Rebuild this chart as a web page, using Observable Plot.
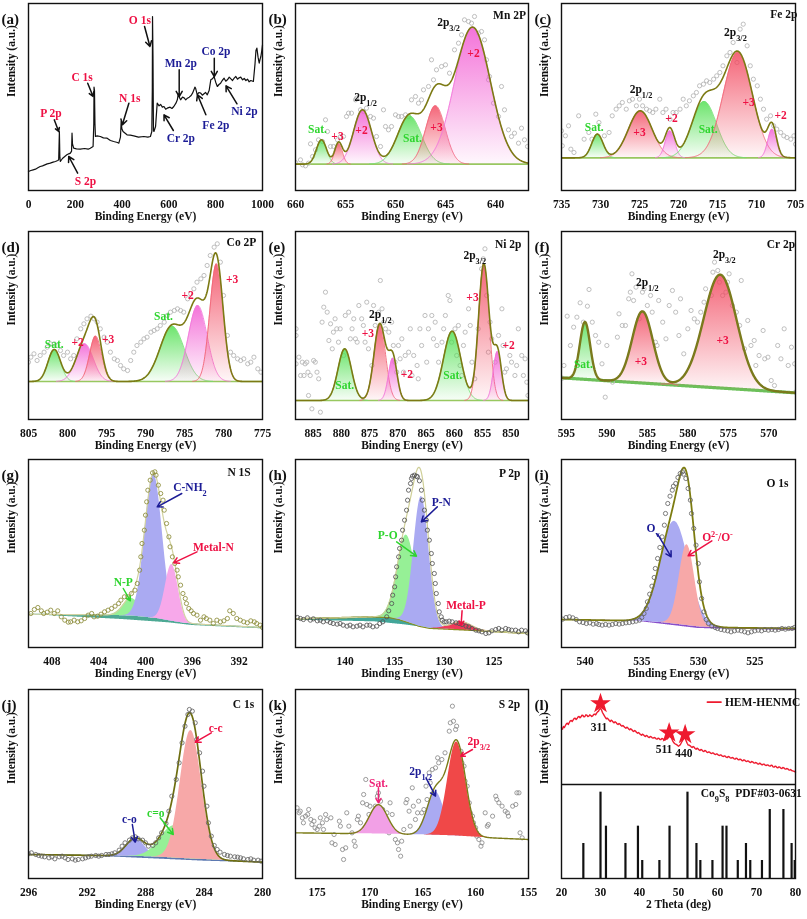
<!DOCTYPE html>
<html><head><meta charset="utf-8">
<script src="https://cdn.jsdelivr.net/npm/d3@7"></script>
<script src="https://cdn.jsdelivr.net/npm/@observablehq/plot@0.6"></script>
<style>
body{margin:0;background:#fff;}
#fig{position:relative;width:807px;height:919px;overflow:hidden;background:#fff;}
.pan{position:absolute;}
</style></head><body>
<svg width="0" height="0" style="position:absolute;left:0;top:0">
<defs>
<linearGradient id="gPink" x1="0" y1="0" x2="0" y2="1"><stop offset="0" stop-color="#f25ad2" stop-opacity="0.85"/><stop offset="1" stop-color="#f25ad2" stop-opacity="0.05"/></linearGradient>
<linearGradient id="gRed" x1="0" y1="0" x2="0" y2="1"><stop offset="0" stop-color="#f24a60" stop-opacity="0.85"/><stop offset="1" stop-color="#f24a60" stop-opacity="0.05"/></linearGradient>
<linearGradient id="gGreen" x1="0" y1="0" x2="0" y2="1"><stop offset="0" stop-color="#52e052" stop-opacity="0.85"/><stop offset="1" stop-color="#52e052" stop-opacity="0.05"/></linearGradient>
</defs></svg>
<div id="fig"></div>
<script>
// ---------------- DATA ----------------
// (a) survey spectrum: [binding energy, intensity]
const surveyLine = [[0,57],[10,60],[20,62],[30,64],[40,68],[50,72],[60,74],[70,77],[80,80],[93,82],[105,85],[115,87],[125,90],[129,92],[131,150],[132,177],[134,100],[136,87],[145,96],[155,102],[164,107],[172,110],[179,112],[184,118],[186,172],[188,140],[193,127],[205,125],[221,124],[240,126],[255,124],[264,127],[276,132],[279,200],[280,310],[282,300],[284,200],[286,162],[293,164],[307,162],[320,158],[336,157],[350,150],[364,147],[380,144],[386,142],[393,160],[396,207],[399,185],[404,177],[421,167],[435,166],[450,164],[470,160],[493,162],[510,160],[521,162],[527,177],[529,300],[530,522],[532,400],[534,180],[536,177],[543,192],[550,262],[558,254],[565,258],[572,250],[579,252],[586,244],[593,247],[605,250],[613,246],[621,252],[630,262],[636,272],[640,290],[643,282],[650,272],[658,280],[665,278],[672,272],[679,277],[687,280],[695,285],[701,292],[707,302],[711,310],[714,307],[718,296],[721,287],[728,294],[736,292],[743,286],[750,290],[757,294],[764,287],[772,300],[779,332],[786,335],[793,342],[800,325],[807,312],[814,318],[821,322],[828,330],[836,337],[843,328],[850,332],[858,340],[865,335],[872,330],[879,337],[886,342],[893,334],[900,338],[907,340],[915,332],[922,336],[929,330],[936,334],[943,326],[950,330],[961,327],[968,380],[972,420],[976,427],[981,400],[986,382],[990,395],[993,402],[997,420],[1000,437]];
const surveyLabels = [[476,512,"O 1s","red"],[229,340,"C 1s","red"],[96,232,"P 2p","red"],[243,27,"S 2p","red"],[433,277,"N 1s","red"],[651,382,"Mn 2p","navy"],[801,417,"Co 2p","navy"],[651,157,"Cr 2p","navy"],[801,197,"Fe 2p","navy"],[923,237,"Ni 2p","navy"]];
const surveyArrows = [[496,492,519,432,"black"],[253,322,276,282,"black"],[110,212,129,177,"black"],[210,52,172,102,"black"],[429,262,401,197,"black"],[644,362,644,282,"black"],[794,397,794,342,"black"],[619,180,579,227,"black"],[758,227,722,287,"black"],[891,260,844,314,"black"]];

// (b) Mn 2p
const mnRaw = [[660.0,84],[659.5,92],[659.3,77],[659.0,74],[658.7,82],[658.5,140],[658.3,102],[658.0,122],[657.7,152],[657.3,147],[657.0,212],[656.8,177],[656.5,132],[656.2,132],[655.8,152],[655.5,162],[655.2,162],[654.9,222],[654.7,232],[654.4,232],[654.0,272],[653.9,277],[653.5,242],[653.2,237],[652.9,247],[652.5,222],[652.2,217],[651.9,162],[651.5,132],[651.2,242],[651.0,192],[650.7,182],[650.4,192],[650.0,227],[649.7,222],[649.4,222],[649.0,227],[648.7,222],[648.4,272],[648.0,282],[647.7,262],[647.4,272],[647.2,302],[646.7,312],[646.4,392],[646.2,332],[645.9,362],[645.4,372],[645.0,377],[644.6,352],[644.1,422],[643.7,442],[643.4,467],[643.1,512],[642.7,507],[642.4,502],[642.1,522],[641.7,472],[641.4,477],[641.1,452],[640.9,392],[640.7,332],[640.6,342],[640.2,262],[639.7,222],[639.4,312],[639.1,242],[638.7,182],[638.4,162],[638.1,172],[637.7,142],[637.4,187],[637.1,152],[636.8,132]];
const mnPeaks = [[657.4,73,1.2,"green"],[655.7,62,0.9,"red"],[653.3,163,2.1,"pink"],[648.6,145,2.8,"green"],[646.0,175,2.3,"red"],[642.3,411,4.2,"pink"]];
const mnLabels = [[657.8,184,"Sat.","green"],[655.8,164,"+3","red"],[653.4,180,"+2","red"],[653.0,280,"2p_{1/2}","black"],[648.3,157,"Sat.","green"],[645.9,190,"+3","red"],[644.7,504,"2p_{3/2}","black"],[642.2,412,"+2","red"],[638.6,527,"Mn 2P","black"]];

// (c) Fe 2p
const feRaw = [[735.0,179],[734.9,134],[734.5,164],[734.1,194],[733.8,124],[733.4,114],[732.8,224],[732.1,154],[731.5,174],[731.1,154],[730.6,229],[730.2,204],[729.5,164],[728.9,174],[728.5,224],[728.0,244],[727.6,254],[727.2,264],[726.7,244],[726.3,269],[725.9,274],[725.4,254],[725.0,274],[724.6,254],[724.1,244],[723.7,239],[723.3,234],[722.9,244],[722.4,274],[722.0,234],[721.6,244],[721.1,214],[720.7,234],[720.3,234],[719.8,244],[719.4,274],[719.0,254],[718.6,269],[718.1,284],[717.7,294],[717.3,314],[716.8,319],[716.4,329],[716.0,324],[715.5,334],[715.1,344],[714.7,354],[714.3,374],[713.8,404],[713.4,414],[713.0,444],[712.5,384],[712.1,484],[711.7,499],[711.2,434],[710.8,374],[710.4,334],[709.9,314],[709.5,274],[709.1,244],[708.7,214],[708.2,224],[707.8,194],[707.4,184],[706.9,174],[706.5,164],[706.1,159],[705.6,154],[705.2,164],[705.0,139]];
const fePeaks = [[730.4,71,1.7,"green"],[724.9,141,3.6,"red"],[721.1,81,1.4,"pink"],[716.7,169,3.7,"green"],[712.4,316,4.4,"red"],[708.0,86,1.3,"pink"]];
const feLabels = [[730.8,189,"Sat.","green"],[724.8,304,"2p_{1/2}","black"],[725.0,176,"+3","red"],[720.9,216,"+2","red"],[716.2,184,"Sat.","green"],[712.7,474,"2p_{3/2}","black"],[711.0,266,"+3","red"],[706.9,226,"+2","red"],[706.5,529,"Fe 2p","black"]];

// (d) Co 2p
const coRaw = [[805.0,172],[804.7,187],[804.3,197],[803.9,177],[803.5,192],[803.0,202],[802.6,217],[802.2,227],[801.7,227],[801.3,222],[800.9,207],[800.5,192],[800.0,202],[799.6,182],[799.2,192],[798.8,242],[798.3,272],[797.9,287],[797.5,302],[797.0,310],[796.6,302],[796.2,292],[795.8,272],[795.3,247],[794.9,232],[794.5,202],[794.0,182],[793.6,177],[793.2,162],[792.8,152],[792.3,147],[791.9,177],[791.5,202],[791.1,222],[790.6,232],[790.2,242],[789.8,247],[789.3,262],[788.9,267],[788.5,272],[788.1,282],[787.6,292],[787.2,312],[786.8,322],[786.3,327],[785.9,332],[785.5,327],[785.1,322],[784.6,362],[784.2,377],[783.8,392],[783.4,412],[782.9,422],[782.5,432],[782.1,462],[781.7,492],[781.2,517],[780.8,527],[780.4,472],[780.0,372],[779.5,252],[779.1,202],[778.7,192],[778.2,182],[777.8,177],[777.4,182],[776.9,167],[776.5,172],[776.1,187],[775.6,152],[775.2,142]];
const coPeaks = [[801.7,96,1.9,"green"],[797.8,113,2.6,"pink"],[796.4,136,1.8,"red"],[786.6,166,3.6,"green"],[783.3,228,2.8,"pink"],[780.9,353,2.0,"red"]];
const coLabels = [[801.7,227,"Sat.","green"],[798.7,232,"+2","red"],[794.8,242,"+3","red"],[787.7,310,"Sat.","green"],[784.6,372,"+2","red"],[778.9,422,"+3","red"],[777.7,532,"Co 2P","black"]];

// (e) Ni 2p
const niRaw = [[888.0,272],[888.0,252],[888.0,167],[887.5,187],[887.2,132],[886.9,172],[886.6,132],[886.4,167],[886.1,172],[885.9,142],[885.8,72],[885.5,132],[885.2,32],[884.9,177],[884.6,172],[884.3,142],[884.0,122],[883.7,22],[883.4,292],[883.1,337],[882.8,382],[882.5,322],[882.2,237],[881.9,287],[881.6,212],[881.4,262],[881.1,302],[880.8,272],[880.5,232],[880.2,272],[879.6,192],[879.3,312],[878.7,322],[878.4,242],[878.1,272],[877.8,302],[877.5,242],[877.2,232],[876.9,342],[876.4,302],[876.1,282],[875.8,232],[875.5,352],[875.2,212],[874.6,162],[874.3,342],[874.0,282],[873.4,322],[873.1,417],[872.8,332],[872.5,292],[872.2,272],[871.6,262],[871.1,292],[870.8,222],[870.5,172],[870.2,142],[869.9,222],[869.6,182],[869.3,242],[869.0,142],[868.7,192],[868.1,202],[867.8,272],[867.5,132],[867.2,192],[866.6,162],[866.4,122],[866.1,272],[865.8,222],[865.2,312],[864.9,172],[864.6,272],[864.0,312],[863.7,242],[863.4,292],[863.1,222],[862.8,172],[862.2,232],[861.9,272],[861.6,312],[861.1,372],[860.8,357],[860.5,232],[859.9,272],[859.6,192],[859.3,282],[859.0,162],[858.7,132],[858.4,222],[858.1,262],[857.5,332],[857.2,282],[856.9,172],[856.4,122],[855.8,272],[855.2,452],[854.9,482],[854.6,512],[854.3,372],[854.0,202],[853.7,292],[853.4,242],[852.8,172],[852.2,252],[851.6,332],[851.4,222],[851.1,142],[850.8,152],[850.2,192],[849.9,172],[849.3,132],[849.0,162],[848.7,272],[848.1,192],[847.8,132],[847.5,182],[847.2,112],[847.0,72]];
const niPeaks = [[879.4,155,2.8,"green"],[873.2,230,2.4,"red"],[870.9,127,1.8,"pink"],[860.4,208,3.6,"green"],[854.8,410,2.2,"red"],[852.4,147,1.7,"pink"]];
const niLabels = [[873.1,317,"2p_{1/2}","black"],[875.3,260,"+3","red"],[868.4,137,"+2","red"],[879.4,102,"Sat.","green"],[860.3,132,"Sat.","green"],[856.4,494,"2p_{3/2}","black"],[856.8,367,"+3","red"],[850.4,222,"+2","red"],[850.5,527,"Ni 2p","black"]];

// (f) Cr 2p
const crRaw = [[595.5,124],[595.3,162],[594.9,310],[594.5,222],[594.1,277],[593.7,307],[593.3,350],[592.9,292],[592.4,340],[592.2,390],[591.8,292],[591.4,252],[591.0,232],[590.6,167],[590.2,67],[590.0,222],[589.3,112],[588.7,247],[588.5,317],[588.1,282],[587.7,282],[587.3,362],[587.1,382],[586.9,437],[586.7,357],[586.4,397],[586.0,302],[585.6,382],[585.4,392],[585.0,342],[584.6,372],[584.4,322],[584.0,232],[583.8,222],[583.6,357],[583.1,292],[582.7,242],[582.3,342],[581.9,387],[581.5,322],[581.1,252],[580.9,362],[580.5,197],[580.0,272],[579.6,327],[579.2,302],[578.8,292],[578.4,322],[578.0,352],[577.8,392],[577.1,372],[576.9,442],[576.7,472],[576.3,447],[576.1,412],[575.7,372],[575.3,382],[575.1,412],[574.9,437],[574.5,342],[574.0,322],[573.6,282],[573.4,417],[573.0,212],[572.6,297],[572.2,222],[571.8,237],[571.6,162],[571.2,192],[570.7,267],[570.5,182],[570.1,187],[569.7,117],[569.3,102],[568.9,222],[568.5,182],[568.1,272],[567.6,162],[567.2,217],[566.8,167],[566.7,82]];
const crPeaks = [[592.7,172,1.5,"green"],[585.6,215,3.0,"red"],[576.0,340,4.8,"red"]];
const crLabels = [[592.9,167,"Sat.","green"],[585.0,412,"2p_{1/2}","black"],[585.8,174,"+3","red"],[575.5,497,"2p_{3/2}","black"],[575.7,237,"+3","red"],[568.5,527,"Cr 2p","black"]];

// (g) N 1s
const nRaw = [[409.8,102],[409.5,114],[409.2,120],[408.9,110],[408.7,102],[408.4,106],[408.1,112],[407.8,102],[407.5,110],[407.2,92],[406.9,82],[406.6,76],[406.4,77],[406.1,82],[405.8,77],[405.5,80],[405.2,87],[404.9,97],[404.6,102],[404.4,92],[404.1,94],[403.8,100],[403.5,107],[403.2,112],[402.9,117],[402.6,124],[402.3,132],[402.1,142],[401.8,152],[401.5,152],[401.2,162],[400.9,172],[400.7,192],[400.5,232],[400.4,272],[400.3,312],[400.1,352],[400.0,397],[399.9,437],[399.8,472],[399.6,502],[399.4,524],[399.2,527],[399.1,517],[398.9,487],[398.7,462],[398.5,442],[398.4,412],[398.2,372],[398.0,332],[397.9,302],[397.7,272],[397.5,252],[397.3,232],[397.2,212],[397.0,187],[396.8,162],[396.6,147],[396.5,132],[396.3,117],[396.1,110],[395.9,102],[395.6,97],[395.3,82],[395.0,92],[394.8,87],[394.5,82],[394.2,72],[393.9,82],[393.6,77],[393.3,80],[393.0,87],[392.8,110],[392.5,102],[392.2,87],[391.9,82],[391.6,77],[391.3,74],[391.0,80],[390.7,77],[390.5,72],[390.2,67],[390.0,60]];
const nPeaks = [[401.2,53,1.7,"greenL"],[399.3,432,1.75,"lav"],[397.75,170,1.3,"pinkL"]];
const nBg = [[410,100],[404,98],[401,94],[399,87],[397.6,78],[396.5,72],[390,60]];
const nBand = [[410,99],[402,84],[398,74],[396,66],[390,56]];
const nLabels = [[396.2,482,"C-NH_{2}","navy"],[394.2,300,"Metal-N","red"],[401.9,197,"N-P","green"],[392.0,527,"N 1S","black"]];
const nArrows = [[396.9,462,399.0,422,"navy"],[395.6,287,397.6,254,"red"],[401.9,177,401.3,140,"green"]];

// (h) P 2p
const pRaw = [[144.8,90],[144.5,87],[144.2,84],[143.8,89],[143.5,82],[143.2,86],[142.8,80],[142.5,82],[142.2,77],[141.8,80],[141.5,75],[141.2,72],[140.8,70],[140.5,72],[140.2,67],[139.8,64],[139.5,67],[139.2,62],[138.8,64],[138.5,67],[138.2,62],[137.8,67],[137.5,67],[137.2,62],[136.8,64],[136.5,72],[136.2,77],[135.8,92],[135.6,110],[135.3,132],[135.2,157],[135.0,182],[134.9,212],[134.8,242],[134.6,272],[134.5,297],[134.3,322],[134.2,352],[134.0,382],[133.8,412],[133.7,442],[133.6,472],[133.4,492],[133.3,507],[133.2,514],[133.0,517],[132.8,514],[132.7,512],[132.5,500],[132.3,472],[132.2,442],[132.0,412],[131.8,382],[131.7,352],[131.5,322],[131.3,282],[131.2,252],[131.0,222],[130.9,192],[130.8,162],[130.6,132],[130.5,107],[130.3,92],[130.2,82],[130.0,77],[129.8,77],[129.5,79],[129.2,77],[128.8,74],[128.5,72],[128.2,69],[127.8,64],[127.5,62],[127.2,57],[126.8,52],[126.5,50],[126.2,47],[125.8,42],[125.5,44],[125.2,50],[124.8,54],[124.5,57],[124.2,52],[123.8,57],[123.5,54],[123.2,52],[122.8,52],[122.5,47],[122.2,52],[121.8,50],[121.6,44]];
const pPeaks = [[133.8,260,2.2,"greenL"],[132.3,390,1.8,"lav"],[128.3,24,2.5,"redP"]];
const pBg = [[145,86],[137,92],[135.5,90],[134.5,84],[133.5,74],[132.5,64],[131.5,58],[128,53],[121.5,42]];
const pBand = [[145,82],[137,77],[134,68],[132,60],[128,52],[121.5,41]];
const pLabels = [[130.3,437,"P-N","navy"],[135.7,337,"P-O","green"],[127.8,127,"Metal-P","red"],[123.4,522,"P 2p","black"]];
const pArrows = [[130.7,422,132.3,377,"navy"],[134.8,317,132.8,274,"green"],[128.2,110,128.3,67,"red"]];

// (i) O 1s
const oRaw = [[542.0,85],[541.7,90],[541.4,92],[541.1,89],[540.8,84],[540.5,77],[540.2,75],[539.9,72],[539.6,74],[539.3,70],[539.0,72],[538.8,69],[538.5,67],[538.2,69],[537.9,67],[537.6,69],[537.3,72],[537.0,70],[536.7,72],[536.4,74],[536.1,75],[535.8,77],[535.5,79],[535.2,82],[535.0,90],[534.8,102],[534.6,117],[534.5,137],[534.3,160],[534.1,184],[533.9,210],[533.8,237],[533.6,267],[533.4,300],[533.2,332],[533.0,367],[532.9,402],[532.7,432],[532.5,454],[532.3,472],[532.2,484],[532.0,492],[531.8,510],[531.6,522],[531.4,527],[531.3,520],[531.1,507],[530.9,477],[530.7,442],[530.6,402],[530.4,357],[530.2,307],[530.0,252],[529.9,197],[529.7,147],[529.5,107],[529.3,84],[529.1,72],[528.8,64],[528.5,60],[528.3,57],[528.0,54],[527.7,52],[527.4,50],[527.1,47],[526.8,50],[526.5,52],[526.2,50],[525.9,47],[525.6,44],[525.3,47],[525.0,50],[524.7,52],[524.4,50],[524.1,54],[523.8,52],[523.5,54],[523.2,52],[522.9,54],[522.6,57],[522.3,55],[522.0,57],[521.7,57],[521.5,60]];
const oPeaks = [[532.1,308,3.0,"lav"],[531.0,242,1.6,"salmon"]];
const oBg = [[542.1,84],[535.5,80],[534.5,78],[533,74],[531.5,68],[530,62],[528.5,60],[521.4,57]];
const oBand = [[542.1,84],[535.5,79],[533,69],[530,57],[521.4,51]];
const oLabels = [[534.0,357,"O_{v}","navy"],[528.3,332,"O^{2-}/O^{-}","red"],[523.0,492,"O 1s","black"]];
const oArrows = [[533.6,340,532.4,272,"navy"],[528.8,320,530.9,275,"red"]];

// (j) C 1s
const cRaw = [[296.0,74],[295.8,77],[295.5,72],[295.3,69],[295.1,67],[294.9,65],[294.6,62],[294.4,65],[294.2,59],[293.9,65],[293.7,67],[293.5,62],[293.3,57],[293.0,59],[292.8,55],[292.6,57],[292.3,59],[292.1,62],[291.9,65],[291.7,67],[291.4,69],[291.2,67],[291.0,69],[290.7,72],[290.5,72],[290.3,74],[290.1,77],[289.8,85],[289.6,97],[289.4,107],[289.1,115],[288.9,122],[288.7,125],[288.5,119],[288.2,115],[288.0,107],[287.8,97],[287.5,99],[287.3,107],[287.1,122],[286.9,137],[286.6,165],[286.4,202],[286.2,247],[285.9,297],[285.7,347],[285.5,407],[285.3,457],[285.1,492],[285.0,507],[284.8,502],[284.6,467],[284.5,417],[284.3,377],[284.1,322],[284.0,277],[283.8,217],[283.7,167],[283.5,127],[283.3,99],[283.1,87],[282.9,79],[282.6,72],[282.4,69],[282.2,67],[281.9,65],[281.7,64],[281.5,62],[281.3,59],[281.0,57],[280.8,59],[280.6,55],[280.3,55],[280.1,52]];
const cPeaks = [[288.7,53,1.5,"lav"],[286.0,97,2.3,"greenL"],[284.9,385,1.7,"salmon"]];
const cBg = [[296,72],[291,69],[289,67],[287,64],[285.5,60],[284,57],[282,53],[280,49]];
const cBand = [[296,71],[290,64],[287,58],[284,52],[280,47]];
const cLabels = [[283.2,452,"c-c","red"],[287.3,197,"c=o","green"],[289.1,177,"c-o","navy"],[281.3,522,"C 1s","black"]];
const cArrows = [[283.5,437,284.6,409,"red"],[287.0,182,286.1,132,"green"],[288.9,162,288.7,109,"navy"]];

// (k) S 2p
const sRaw = [[176.9,212],[176.7,197],[176.6,202],[176.4,182],[176.3,167],[176.1,187],[175.9,192],[175.8,207],[175.6,177],[175.5,162],[175.3,172],[175.2,152],[175.0,147],[174.8,157],[174.7,182],[174.5,167],[174.4,147],[174.2,192],[174.1,177],[173.7,182],[173.6,107],[173.4,132],[173.3,102],[172.9,172],[172.8,157],[172.6,87],[172.5,57],[172.3,92],[172.2,197],[172.0,157],[171.7,137],[171.5,112],[171.4,97],[171.2,177],[171.1,187],[170.9,167],[170.7,227],[170.6,252],[170.4,297],[170.3,222],[170.1,192],[170.0,217],[169.8,157],[169.5,217],[169.3,247],[169.2,257],[169.0,232],[168.8,207],[168.5,167],[168.4,197],[168.2,137],[168.1,227],[167.9,192],[167.6,117],[167.4,107],[167.3,87],[167.1,67],[167.0,112],[166.8,147],[166.6,227],[166.5,237],[166.3,202],[166.2,157],[166.0,272],[165.9,217],[165.7,177],[165.5,197],[165.4,232],[165.1,197],[164.9,207],[164.7,277],[164.6,237],[164.4,317],[164.3,287],[164.1,327],[164.0,257],[163.8,332],[163.6,362],[163.5,347],[163.2,357],[162.9,377],[162.5,442],[162.4,467],[162.2,517],[162.1,472],[161.9,447],[161.8,457],[161.6,367],[161.4,382],[161.3,347],[161.1,337],[161.0,292],[160.8,277],[160.6,227],[160.5,197],[160.3,187],[160.2,167],[160.0,152],[159.9,127],[159.7,117],[159.5,97],[159.4,107],[159.1,197],[158.9,157],[158.8,162],[158.4,187],[158.1,247],[158.0,237],[157.8,227],[157.5,217],[157.2,202],[157.0,197],[156.9,187],[156.5,217],[156.2,222],[156.1,257],[155.9,257],[155.8,137],[155.6,122]];
const sPeaks = [[169.2,88,2.0,"pinkS"],[163.8,130,1.9,"lav"],[161.8,282,2.0,"redS"]];
const sBg = [[177,137],[170,134],[165,131],[162,128],[160,124],[155,117]];
const sLabels = [[169.2,287,"Sat.","magenta"],[165.2,322,"2p_{1/2}","navy"],[159.7,412,"2p_{3/2}","red"],[156.8,522,"S 2p","black"]];
const sArrows = [[169.2,272,169.2,227,"magenta"],[164.7,302,163.8,247,"navy"],[160.3,387,161.4,367,"red"]];

// (l) XRD: measured pattern [2theta, intensity], reference sticks [2theta, intensity]
const hemXrd = [[20,170],[20.25,166],[20.5,174],[20.75,171],[21,177],[21.25,182],[21.5,184],[21.75,180],[22,186],[22.25,191],[22.5,192],[22.75,189],[23,194],[23.25,198],[23.5,199],[23.75,195],[24,198],[24.25,203],[24.5,204],[24.75,200],[25,203],[25.25,208],[25.5,207],[25.75,203],[26,204],[26.25,209],[26.5,208],[26.75,204],[27,205],[27.25,209],[27.5,207],[27.75,204],[28,206],[28.25,210],[28.5,211],[28.75,209],[29,214],[29.25,218],[29.5,220],[29.75,226],[30,228],[30.25,224],[30.5,216],[30.75,211],[31,206],[31.25,201],[31.5,197],[31.75,199],[32,196],[32.25,192],[32.5,189],[32.75,193],[33,191],[33.25,187],[33.5,185],[33.75,188],[34,186],[34.25,182],[34.5,180],[34.75,183],[35,181],[35.25,177],[35.5,175],[35.75,177],[36,174],[36.25,171],[36.5,169],[36.75,172],[37,170],[37.25,166],[37.5,164],[37.75,167],[38,165],[38.25,161],[38.5,159],[38.75,162],[39,160],[39.25,156],[39.5,154],[39.75,156],[40,153],[40.25,150],[40.5,148],[40.75,151],[41,149],[41.25,146],[41.5,144],[41.75,147],[42,146],[42.25,142],[42.5,141],[42.75,144],[43,143],[43.25,140],[43.5,139],[43.75,141],[44,140],[44.25,137],[44.5,136],[44.75,139],[45,138],[45.25,135],[45.5,135],[45.75,138],[46,137],[46.25,134],[46.5,133],[46.75,136],[47,136],[47.25,139],[47.5,142],[47.75,147],[48,146],[48.25,138],[48.5,131],[48.75,126],[49,123],[49.25,121],[49.5,120],[49.75,117],[50,115],[50.25,117],[50.5,120],[50.75,126],[51,131],[51.25,137],[51.5,141],[51.75,137],[52,130],[52.25,123],[52.5,118],[52.75,118],[53,116],[53.25,113],[53.5,111],[53.75,114],[54,112],[54.25,108],[54.5,106],[54.75,109],[55,107],[55.25,104],[55.5,102],[55.75,105],[56,104],[56.25,100],[56.5,99],[56.75,102],[57,101],[57.25,97],[57.5,96],[57.75,98],[58,97],[58.25,94],[58.5,93],[58.75,95],[59,94],[59.25,91],[59.5,90],[59.75,92],[60,91],[60.25,88],[60.5,87],[60.75,89],[61,88],[61.25,85],[61.5,84],[61.75,86],[62,85],[62.25,82],[62.5,81],[62.75,84],[63,83],[63.25,80],[63.5,79],[63.75,81],[64,80],[64.25,77],[64.5,76],[64.75,79],[65,78],[65.25,75],[65.5,74],[65.75,76],[66,75],[66.25,72],[66.5,71],[66.75,74],[67,73],[67.25,70],[67.5,69],[67.75,71],[68,70],[68.25,67],[68.5,66],[68.75,69],[69,68],[69.25,65],[69.5,64],[69.75,66],[70,65],[70.25,62],[70.5,61],[70.75,64],[71,63],[71.25,60],[71.5,59],[71.75,61],[72,61],[72.25,58],[72.5,57],[72.75,59],[73,58],[73.25,56],[73.5,55],[73.75,58],[74,57],[74.25,53],[74.5,52],[74.75,55],[75,54],[75.25,51],[75.5,50],[75.75,53],[76,52],[76.25,49],[76.5,48],[76.75,51],[77,50],[77.25,47],[77.5,46],[77.75,48],[78,47],[78.25,44],[78.5,43],[78.75,45],[79,42],[79.25,41],[79.5,40],[79.75,39],[80,37]];
const xrdStars = [[30.0,243],[47.6,155],[51.7,150]];
const xrdPeakLabels = [[29.6,173,"311"],[46.3,105,"511"],[51.4,95,"440"]];
const xrdLegendLine = [[57.4,247],[60.9,247]];
const xrdLegendText = [[61.9,247,"HEM-HENMC"]];
const cosSticks = [[25.6,105],[30.0,259],[31.4,157],[36.4,105],[39.6,157],[40.7,54],[45.1,54],[47.7,157],[52.3,259],[54.6,105],[55.6,54],[58.7,54],[61.3,157],[62.3,157],[65.2,54],[67.3,105],[68.4,54],[71.4,54],[73.4,207],[76.9,207],[79.0,105],[79.8,54]];
const cosLabel = [[55.7,255,"Co_{9}S_{8}\u00a0\u00a0PDF#03-0631"]];

// ---------------- DRAWING ----------------
const FONT = "'Liberation Serif','Times New Roman',Times,serif";
const TXT = {green:"#2fd52f", red:"#ee1144", black:"#111111", navy:"#1c1c96", magenta:"#ee2277"};
const GRAD = {pink:"url(#gPink)", red:"url(#gRed)", green:"url(#gGreen)"};
const LINEC = {pink:"#f278da", red:"#f26678", green:"#72e072"};
const FLAT = {lav:"#aaaaf2", pinkL:"#f7a8ea", greenL:"#96f096", salmon:"#f7a8a8", redS:"#f04848", pinkS:"#f2a0e6", redP:"#f03a5a"};
const COLS = [28, 295, 561], COLW = [234, 233, 234];
const ROWS = [3, 231, 459, 689], ROWH = [187, 188, 188, 189];
const ML = 28, MT = 3, MR = 10, MB = 40;

const sortK = k => k.slice().sort((p, q) => p[0] - q[0]);
function lerp(k, x) {
  const n = k.length;
  if (x <= k[0][0]) return k[0][1];
  if (x >= k[n - 1][0]) return k[n - 1][1];
  for (let i = 1; i < n; i++) if (x <= k[i][0]) {
    const t = (x - k[i - 1][0]) / (k[i][0] - k[i - 1][0]);
    return k[i - 1][1] + t * (k[i][1] - k[i - 1][1]);
  }
}
function richText(svg) {
  svg.querySelectorAll("text").forEach(t => {
    const s = t.textContent;
    if (!/[_^]\{/.test(s)) return;
    t.textContent = "";
    const re = /([_^])\{([^}]*)\}|([^_^]+)/g; let m;
    while ((m = re.exec(s))) {
      const ts = document.createElementNS("http://www.w3.org/2000/svg", "tspan");
      if (m[3] !== undefined) ts.textContent = m[3];
      else {
        ts.textContent = m[2];
        ts.setAttribute("font-size", "72%");
        ts.setAttribute("baseline-shift", m[1] === "_" ? "sub" : "super");
      }
      t.appendChild(ts);
    }
  });
}
function place(svg, col, row) {
  const div = document.createElement("div");
  div.className = "pan";
  div.style.left = (COLS[col] - ML) + "px";
  div.style.top = (ROWS[row] - MT) + "px";
  div.appendChild(svg);
  document.getElementById("fig").appendChild(div);
  richText(svg);
}
function commonMarks(letter, xLabel) {
  return [
    Plot.frame({stroke: "#111", strokeWidth: 1.4}),
    Plot.text([letter], {frameAnchor: "top-left", dx: -27, dy: 10, textAnchor: "start", fontSize: 15, fontWeight: "bold", fill: "#111"}),
    Plot.text([xLabel], {frameAnchor: "bottom", dy: 29, fontSize: 11.5, fontWeight: "bold", fill: "#111"}),
    Plot.text(["Intensity (a.u.)"], {frameAnchor: "left", rotate: -90, dx: -17, fontSize: 11.5, fontWeight: "bold", fill: "#111"})
  ];
}
function plotIt(col, row, xDomain, ticks, marks) {
  return Plot.plot({
    width: ML + COLW[col] + MR, height: MT + ROWH[row] + MB,
    marginLeft: ML, marginTop: MT, marginRight: MR, marginBottom: MB,
    x: {domain: xDomain, ticks, tickFormat: d => String(d), tickSize: 0, tickPadding: 9, label: null},
    y: {domain: [0, 3 * ROWH[row]], axis: null},
    style: {fontFamily: FONT, fontWeight: "bold", fontSize: "11.5px", color: "#111", background: "transparent", overflow: "visible"},
    marks
  });
}
function annot(labels, arrows) {
  const out = [];
  for (const ar of arrows || []) out.push(Plot.arrow([ar], {x1: d => d[0], y1: d => d[1], x2: d => d[2], y2: d => d[3], stroke: TXT[ar[4]], strokeWidth: 1.5, headLength: 6}));
  for (const l of labels) out.push(Plot.text([l], {x: d => d[0], y: d => d[1], text: d => d[2], fill: TXT[l[3]], fontSize: 11.5, fontWeight: "bold"}));
  return out;
}
function xps(o) {
  const [a, b] = o.xDomain;
  const xs = d3.range(601).map(i => a + (b - a) * i / 600);
  const bgK = sortK(o.bg);
  const bg = x => lerp(bgK, x);
  const comp = (x, p) => p[1] * Math.exp(-4 * Math.LN2 * ((x - p[0]) / p[2]) ** 2);
  const marks = [];
  if (o.band) {
    const bK = sortK(o.band);
    marks.push(Plot.areaY(xs, {x: d => d, y1: d => lerp(bK, d), y2: d => bg(d), fill: o.bandColor, fillOpacity: 0.9, clip: true}));
  }
  if (o.baseStroke) marks.push(Plot.line(xs, {x: d => d, y: d => bg(d), stroke: o.baseStroke, strokeWidth: o.baseWidth, clip: true}));
  const dots = Plot.dot(o.raw, {x: d => d[0], y: d => d[1], r: 2.1, stroke: o.dotColor, strokeWidth: 0.85, fill: "none", clip: true});
  if (!o.dotsOnTop) marks.push(dots);
  for (const p of o.peaks) {
    const pts = xs.map(x => ({x, y1: bg(x), y2: bg(x) + comp(x, p)})).filter(d => d.y2 - d.y1 > 0.5);
    const fill = o.grad ? GRAD[p[3]] : FLAT[p[3]];
    marks.push(Plot.areaY(pts, {x: "x", y1: "y1", y2: "y2", fill, mixBlendMode: o.grad ? "normal" : "multiply", clip: true}));
    if (o.grad) marks.push(Plot.line(pts, {x: "x", y: "y2", stroke: LINEC[p[3]], strokeWidth: 0.9, clip: true}));
  }
  const env = xs.map(x => [x, bg(x) + d3.sum(o.peaks, p => comp(x, p))]);
  marks.push(Plot.line(env, {x: d => d[0], y: d => d[1], stroke: o.envColor, strokeWidth: o.envWidth, clip: true}));
  if (o.dotsOnTop) marks.push(dots);
  marks.push(...annot(o.labels, o.arrows));
  marks.push(...commonMarks(o.letter, "Binding Energy (eV)"));
  place(plotIt(o.col, o.row, o.xDomain, o.ticks, marks), o.col, o.row);
}

// (a) survey
(function () {
  const marks = [
    Plot.line(surveyLine, {x: d => d[0], y: d => d[1], stroke: "#111", strokeWidth: 1.2}),
    ...annot(surveyLabels, surveyArrows),
    ...commonMarks("(a)", "Binding Energy (eV)")
  ];
  place(plotIt(0, 0, [0, 1000], [0, 200, 400, 600, 800, 1000], marks), 0, 0);
})();

const gradStyle = {grad: true, dotColor: "#b4b4b4", envColor: "#7c7a14", envWidth: 1.6, baseStroke: "#98c860", baseWidth: 1.6};
xps({...gradStyle, letter: "(b)", col: 1, row: 0, xDomain: [660, 636.7], ticks: [660, 655, 650, 645, 640], raw: mnRaw, peaks: mnPeaks, bg: [[660, 79], [636.7, 79]], labels: mnLabels});
xps({...gradStyle, letter: "(c)", col: 2, row: 0, xDomain: [735, 705], ticks: [735, 730, 725, 720, 715, 710, 705], raw: feRaw, peaks: fePeaks, bg: [[735, 98], [705, 98]], labels: feLabels});
xps({...gradStyle, letter: "(d)", col: 0, row: 1, xDomain: [805, 775], ticks: [805, 800, 795, 790, 785, 780, 775], raw: coRaw, peaks: coPeaks, bg: [[805, 114], [775, 114]], labels: coLabels});
xps({...gradStyle, letter: "(e)", col: 1, row: 1, xDomain: [888.1, 846.9], ticks: [885, 880, 875, 870, 865, 860, 855, 850], raw: niRaw, peaks: niPeaks, bg: [[888.1, 57], [846.9, 57]], labels: niLabels});
xps({...gradStyle, letter: "(f)", col: 2, row: 1, xDomain: [595.6, 566.7], ticks: [595, 590, 585, 580, 575, 570], raw: crRaw, peaks: crPeaks, bg: [[595.6, 125], [566.7, 80]], labels: crLabels, envColor: "#7a7a1c", envWidth: 2.4, baseStroke: "#6cc05a", baseWidth: 3.2});
xps({letter: "(g)", col: 0, row: 2, xDomain: [410, 390], ticks: [408, 404, 400, 396, 392], raw: nRaw, peaks: nPeaks, bg: nBg, band: nBand, bandColor: "#3aa088", labels: nLabels, arrows: nArrows, dotColor: "#8c8c3a", dotsOnTop: true, envColor: "#d2d2a0", envWidth: 1.2});
xps({letter: "(h)", col: 1, row: 2, xDomain: [145, 121.5], ticks: [140, 135, 130, 125], raw: pRaw, peaks: pPeaks, bg: pBg, band: pBand, bandColor: "#2d9c8e", labels: pLabels, arrows: pArrows, dotColor: "#555", dotsOnTop: true, envColor: "#cfcf98", envWidth: 1.2, baseStroke: "#8b8b22", baseWidth: 1.6});
xps({letter: "(i)", col: 2, row: 2, xDomain: [542.1, 521.4], ticks: [540, 535, 530, 525], raw: oRaw, peaks: oPeaks, bg: oBg, band: oBand, bandColor: "#7b3cc4", labels: oLabels, arrows: oArrows, dotColor: "#666", dotsOnTop: true, envColor: "#7c7c10", envWidth: 1.8});
xps({letter: "(j)", col: 0, row: 3, xDomain: [296, 280], ticks: [296, 292, 288, 284, 280], raw: cRaw, peaks: cPeaks, bg: cBg, band: cBand, bandColor: "#4b6aa8", labels: cLabels, arrows: cArrows, dotColor: "#666", dotsOnTop: true, envColor: "#6e6e10", envWidth: 1.7});
xps({letter: "(k)", col: 1, row: 3, xDomain: [177.05, 155], ticks: [175, 170, 165, 160, 155], raw: sRaw, peaks: sPeaks, bg: sBg, labels: sLabels, arrows: sArrows, dotColor: "#8a8a8a", dotsOnTop: false, envColor: "#7c7c18", envWidth: 1.4});

// (l) XRD
(function () {
  const off = 282;
  const RED = "#ee1a2e";
  const marks = [
    Plot.ruleX(cosSticks, {x: d => d[0], y1: 0, y2: d => d[1], stroke: "#111", strokeWidth: 2.2}),
    Plot.line(hemXrd, {x: d => d[0], y: d => d[1] + off, stroke: RED, strokeWidth: 1.4}),
    Plot.dot(xrdStars, {x: d => d[0], y: d => d[1] + off, symbol: "star", r: 6.5, fill: RED, stroke: "none"}),
    Plot.text(xrdPeakLabels, {x: d => d[0], y: d => d[1] + off, text: d => d[2], fill: "#111", fontSize: 11.5, fontWeight: "bold"}),
    Plot.line(xrdLegendLine, {x: d => d[0], y: d => d[1] + off, stroke: RED, strokeWidth: 1.6}),
    Plot.text(xrdLegendText, {x: d => d[0], y: d => d[1] + off, text: d => d[2], textAnchor: "start", fill: "#111", fontSize: 11.5, fontWeight: "bold"}),
    Plot.text(cosLabel, {x: d => d[0], y: d => d[1], text: d => d[2], textAnchor: "start", fill: "#111", fontSize: 11.5, fontWeight: "bold"}),
    Plot.ruleY([off], {stroke: "#111", strokeWidth: 1.3}),
    ...commonMarks("(l)", "2 Theta (deg)")
  ];
  place(plotIt(2, 3, [20, 80], [20, 30, 40, 50, 60, 70, 80], marks), 2, 3);
})();
</script>
</body></html>
